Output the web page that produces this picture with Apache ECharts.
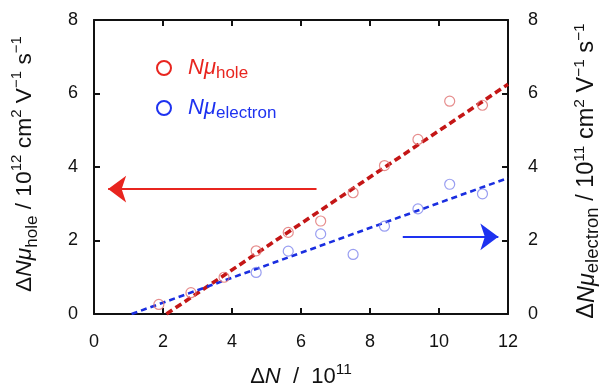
<!DOCTYPE html>
<html>
<head>
<meta charset="utf-8">
<script src="https://cdn.jsdelivr.net/npm/echarts@6/dist/echarts.min.js"></script>
<style>
html,body{margin:0;padding:0;background:#fff;}
#chart{width:601px;height:388px;}
</style>
</head>
<body>
<div id="chart"></div>
<script>
// ---- data ----
var holeX = [1.88, 2.81, 3.77, 4.70, 5.63, 6.57, 7.51, 8.42, 9.39, 10.31, 11.26];
var holeY = [0.26, 0.58, 1.00, 1.72, 2.22, 2.53, 3.30, 4.04, 4.75, 5.79, 5.68];
var electronX = [4.70, 5.63, 6.57, 7.51, 8.42, 9.39, 10.31, 11.26];
var electronY = [1.13, 1.71, 2.18, 1.62, 2.39, 2.86, 3.53, 3.27];
var holeFitX = [2.1, 12];
var holeFitY = [0, 6.25];
var electronFitX = [1.09, 12];
var electronFitY = [0, 3.70];
var holeArrowX = [6.45, 0.41];
var holeArrowY = [3.40, 3.40];
var electronArrowX = [8.95, 11.72];
var electronArrowY = [2.10, 2.10];
var xTicks = [0, 2, 4, 6, 8, 10, 12];
var yTicks = [0, 2, 4, 6, 8];
var legendNames = ['hole', 'electron'];

function pairs(xs, ys) { return xs.map(function (x, i) { return [x, ys[i]]; }); }

var FONT = "'Liberation Sans', Arial, Helvetica, sans-serif";
var RED = '#e8251f', BLUE = '#1e32f0';
var LRED = '#e07070', LBLUE = '#7f86ee';

var chart = echarts.init(document.getElementById('chart'), null, {renderer: 'canvas'});

var axisCommon = {
  type: 'value',
  axisLine: {show: true, onZero: false, lineStyle: {color: '#111', width: 2}},
  axisTick: {show: true, inside: true, length: 6, lineStyle: {color: '#111', width: 2}},
  splitLine: {show: false}
};

function mkRich(m, sub, sup) {
  return {
    m: {fontSize: m, lineHeight: m + 8, verticalAlign: 'middle', fontFamily: FONT, fill: '#111'},
    mi: {fontSize: m, lineHeight: m + 8, verticalAlign: 'middle', fontStyle: 'italic', fontFamily: FONT, fill: '#111'},
    sub: {fontSize: sub, verticalAlign: 'bottom', fontFamily: FONT, fill: '#111'},
    sup: {fontSize: sup, verticalAlign: 'top', fontFamily: FONT, fill: '#111'}
  };
}
var yRichL = mkRich(22.8, 17, 15);
var yRichR = mkRich(23.5, 18.5, 15.5);
var xRich = mkRich(22, 16, 15.5);

var option = {
  animation: false,
  backgroundColor: '#fff',
  grid: {left: 94, right: 93, top: 20, bottom: 74, containLabel: false},
  xAxis: [
    Object.assign({}, axisCommon, {
      position: 'bottom', min: xTicks[0], max: xTicks[xTicks.length - 1], interval: 2,
      axisLabel: {show: true, fontSize: 18, color: '#111', fontFamily: FONT, margin: 19}
    }),
    Object.assign({}, axisCommon, {
      position: 'top', min: xTicks[0], max: xTicks[xTicks.length - 1], interval: 2,
      axisLabel: {show: false}
    })
  ],
  yAxis: [
    Object.assign({}, axisCommon, {
      position: 'left', min: yTicks[0], max: yTicks[yTicks.length - 1], interval: 2,
      axisLabel: {show: true, fontSize: 18, color: '#111', fontFamily: FONT, margin: 16}
    }),
    Object.assign({}, axisCommon, {
      position: 'right', min: yTicks[0], max: yTicks[yTicks.length - 1], interval: 2,
      axisLabel: {show: true, fontSize: 18, color: '#111', fontFamily: FONT, margin: 20}
    })
  ],
  legend: {
    orient: 'vertical', left: 156, top: 57, padding: 0, itemWidth: 14, itemHeight: 14, itemGap: 15,
    icon: 'circle', selectedMode: false,
    data: legendNames,
    formatter: function (n) {
      return n === 'hole' ? '{hN|Nμ}{hs|hole}' : '{eN|Nμ}{es|electron}';
    },
    textStyle: {
      fontFamily: FONT,
      rich: {
        hN: {fontSize: 22, lineHeight: 28, fontStyle: 'italic', color: RED, verticalAlign: 'middle', padding: [0, 0, 0, 12], fontFamily: FONT},
        hs: {fontSize: 17, color: RED, verticalAlign: 'bottom', fontFamily: FONT},
        eN: {fontSize: 22, lineHeight: 28, fontStyle: 'italic', color: BLUE, verticalAlign: 'middle', padding: [0, 0, 0, 12], fontFamily: FONT},
        es: {fontSize: 17, color: BLUE, verticalAlign: 'bottom', fontFamily: FONT}
      }
    }
  },
  graphic: [
    {type: 'text', x: 301, y: 377, silent: true,
      style: {text: '{m|Δ}{mi|N}{m|  /  10}{sup|11}', rich: xRich, align: 'center', verticalAlign: 'middle', fontFamily: FONT, fill: '#111'}},
    {type: 'text', x: 25, y: 164, rotation: Math.PI / 2, silent: true,
      style: {text: '{m|Δ}{mi|Nμ}{sub|hole}{m| / 10}{sup|12}{m| cm}{sup|2}{m| V}{sup|−1}{m| s}{sup|−1}', rich: yRichL, align: 'center', verticalAlign: 'middle', fontFamily: FONT, fill: '#111'}},
    {type: 'text', x: 587, y: 171, rotation: Math.PI / 2, silent: true,
      style: {text: '{m|Δ}{mi|Nμ}{sub|electron}{m| / 10}{sup|11}{m| cm}{sup|2}{m| V}{sup|−1}{m| s}{sup|−1}', rich: yRichR, align: 'center', verticalAlign: 'middle', fontFamily: FONT, fill: '#111'}}
  ],
  series: [
    {
      name: 'holeFit', type: 'line', xAxisIndex: 0, yAxisIndex: 0, data: pairs(holeFitX, holeFitY),
      symbol: 'none', lineStyle: {color: '#c41616', width: 3.6, type: [7, 4]}, silent: true, z: 3
    },
    {
      name: 'electronFit', type: 'line', xAxisIndex: 0, yAxisIndex: 1, data: pairs(electronFitX, electronFitY),
      symbol: 'none', lineStyle: {color: '#1a2ee0', width: 2.6, type: [6, 4]}, silent: true, z: 3
    },
    {
      name: 'holeData', type: 'scatter', xAxisIndex: 0, yAxisIndex: 0, data: pairs(holeX, holeY),
      symbol: 'circle', symbolSize: 10,
      itemStyle: {color: 'rgba(255,255,255,0)', borderColor: LRED, borderWidth: 1.2}, z: 4,
      markLine: {
        silent: true, symbol: ['none', 'arrow'], symbolSize: [20, 18],
        label: {show: false}, lineStyle: {color: RED, width: 2, type: 'solid'},
        data: [[{coord: [holeArrowX[0], holeArrowY[0]]}, {coord: [holeArrowX[1], holeArrowY[1]]}]]
      }
    },
    {
      name: 'electronData', type: 'scatter', xAxisIndex: 0, yAxisIndex: 1, data: pairs(electronX, electronY),
      symbol: 'circle', symbolSize: 10,
      itemStyle: {color: 'rgba(255,255,255,0)', borderColor: LBLUE, borderWidth: 1.2}, z: 4,
      markLine: {
        silent: true, symbol: ['none', 'arrow'], symbolSize: [20, 18],
        label: {show: false}, lineStyle: {color: BLUE, width: 2, type: 'solid'},
        data: [[{coord: [electronArrowX[0], electronArrowY[0]]}, {coord: [electronArrowX[1], electronArrowY[1]]}]]
      }
    },
    // legend-only entries (no data) carrying the stronger legend colours
    {
      name: 'hole', type: 'scatter', data: [], symbol: 'circle',
      itemStyle: {color: 'rgba(255,255,255,0)', borderColor: RED, borderWidth: 2.2, opacity: 1}
    },
    {
      name: 'electron', type: 'scatter', data: [], symbol: 'circle',
      itemStyle: {color: 'rgba(255,255,255,0)', borderColor: BLUE, borderWidth: 2.2, opacity: 1}
    }
  ]
};
chart.setOption(option);
</script>
</body>
</html>
